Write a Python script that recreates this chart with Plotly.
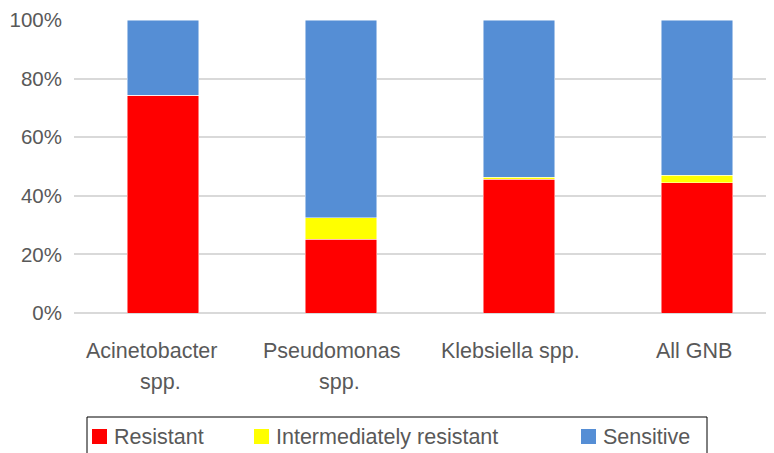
import plotly.graph_objects as go

categories = ["Acinetobacter spp.", "Pseudomonas spp.", "Klebsiella spp.", "All GNB"]
category_label_lines = [["Acinetobacter", "spp."], ["Pseudomonas", "spp."], ["Klebsiella spp."], ["All GNB"]]
resistant = [74.4, 25.2, 45.7, 44.5]
intermediate = [0.0, 7.3, 0.7, 2.5]
sensitive = [25.6, 67.5, 53.6, 53.0]
series_names = ["Resistant", "Intermediately resistant", "Sensitive"]
colors = ["#ff0000", "#ffff00", "#558ed5"]
y_ticks = [0, 20, 40, 60, 80, 100]
y_tick_labels = ["0%", "20%", "40%", "60%", "80%", "100%"]

# horizontal nudges of each label line (pixels), matching the reference's text placement
label_shifts = [[-12, -3], [-9.5, -2], [-9], [-3.5]]

W, H = 774, 453
OFF = 8  # page offset of the rendered figure
L, R, T, B = 74 - OFF, 774, 20 - OFF, 313 - OFF  # plot area in figure pixels

FONT = "Liberation Sans, Arial, sans-serif"
GREY = "#595959"

fig = go.Figure()
for name, vals, col in zip(series_names, [resistant, intermediate, sensitive], colors):
    fig.add_trace(go.Bar(
        x=categories, y=vals, name=name,
        marker=dict(color=col, line=dict(color="rgba(255,255,255,0.6)", width=0.8)),
        showlegend=False,
    ))

def px(x):
    return (x - OFF - L) / (R - L)

def py(y):
    return (B - (y - OFF)) / (B - T)

shapes = []
annotations = []

# category labels
line_y = [350.5, 381.5]
for cat, lines, shifts in zip(categories, category_label_lines, label_shifts):
    for i, (txt, sh) in enumerate(zip(lines, shifts)):
        annotations.append(dict(text=txt, xref="x", yref="paper", x=cat, y=py(line_y[i]),
                                xanchor="center", yanchor="middle", xshift=sh,
                                showarrow=False, font=dict(family=FONT, size=21.5, color=GREY)))

# legend frame
shapes.append(dict(type="rect", xref="paper", yref="paper",
                   x0=px(87), x1=px(707), y0=py(470), y1=py(417),
                   line=dict(color="#000000", width=1), fillcolor="rgba(0,0,0,0)"))
leg_x = [92, 254, 581]
for name, col, lx in zip(series_names, colors, leg_x):
    shapes.append(dict(type="rect", xref="paper", yref="paper",
                       x0=px(lx), x1=px(lx + 15), y0=py(444), y1=py(429),
                       line=dict(width=0), fillcolor=col))
    annotations.append(dict(text=name, xref="paper", yref="paper",
                            x=px(lx + 20), y=py(437), xanchor="left", yanchor="middle",
                            showarrow=False, font=dict(family=FONT, size=21.5, color=GREY)))

fig.update_layout(
    width=W, height=H,
    margin=dict(l=L, r=W - R, t=T, b=H - B),
    barmode="stack", bargap=0.6,
    plot_bgcolor="white", paper_bgcolor="white",
    font=dict(family=FONT, size=20, color=GREY),
    xaxis=dict(range=[-0.5, 3.5 - (12 - OFF) / 178], showgrid=False, showline=False,
               ticks="", showticklabels=False, fixedrange=True),
    yaxis=dict(range=[0, 100], tickvals=y_ticks, ticktext=y_tick_labels,
               showgrid=True, gridcolor="#d9d9d9", gridwidth=1.5,
               zeroline=True, zerolinecolor="#d9d9d9", zerolinewidth=1.5,
               showline=False, ticks="", tickfont=dict(size=20.5, color=GREY),
               ticklabelstandoff=11),
    shapes=shapes, annotations=annotations,
)

fig.write_html("out.html")
